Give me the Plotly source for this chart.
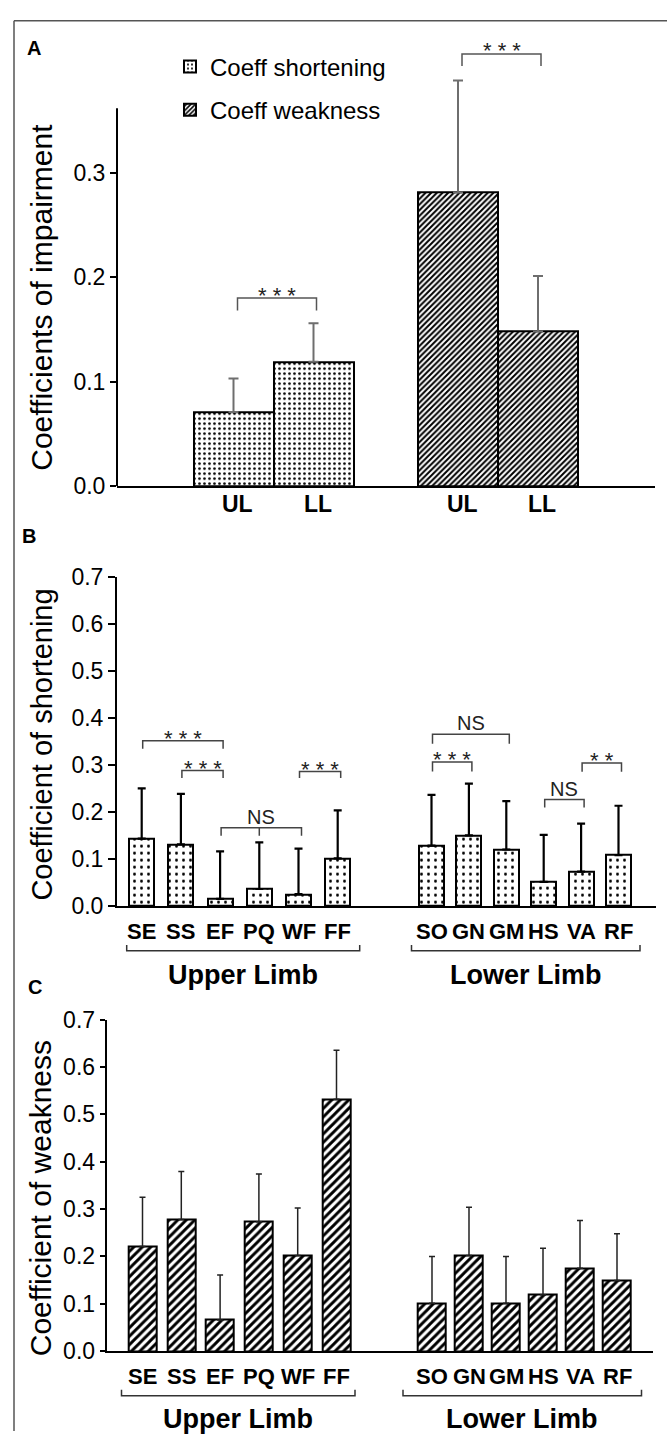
import plotly.graph_objects as go

W, H = 667, 1444
FONT = "Liberation Sans, Arial, sans-serif"

# ---------------- data ----------------
limb_labels = ["UL", "LL"]
a_short_mean = [0.071, 0.119]
a_short_sd = [0.032, 0.037]
a_weak_mean = [0.281, 0.148]
a_weak_sd = [0.107, 0.053]

upper_muscles = ["SE", "SS", "EF", "PQ", "WF", "FF"]
lower_muscles = ["SO", "GN", "GM", "HS", "VA", "RF"]

b_upper_mean = [0.143, 0.131, 0.015, 0.036, 0.025, 0.101]
b_upper_sd = [0.107, 0.107, 0.101, 0.099, 0.097, 0.102]
b_lower_mean = [0.128, 0.150, 0.120, 0.051, 0.073, 0.108]
b_lower_sd = [0.108, 0.110, 0.103, 0.100, 0.102, 0.105]

c_upper_mean = [0.221, 0.278, 0.066, 0.273, 0.202, 0.532]
c_upper_sd = [0.104, 0.101, 0.095, 0.101, 0.100, 0.103]
c_lower_mean = [0.101, 0.202, 0.101, 0.119, 0.175, 0.149]
c_lower_sd = [0.099, 0.102, 0.099, 0.098, 0.101, 0.099]

a_ticks = [0.0, 0.1, 0.2, 0.3]
bc_ticks = [0.0, 0.1, 0.2, 0.3, 0.4, 0.5, 0.6, 0.7]

# significance brackets: (group, i, j, top, bottom, label, mid index)
a_brackets = [("short", 0, 1, 0.180, 0.168, "* * *", None),
              ("weak", 0, 1, 0.4134, 0.402, "* * *", None)]
b_brackets = [("upper", 0, 2, 0.351, 0.334, "* * *", None),
              ("upper", 1, 2, 0.288, 0.272, "* * *", None),
              ("upper", 4, 5, 0.286, 0.272, "* * *", None),
              ("upper", 2, 4, 0.166, 0.149, "NS", 3),
              ("lower", 0, 2, 0.365, 0.345, "NS", None),
              ("lower", 0, 1, 0.306, 0.286, "* * *", None),
              ("lower", 3, 4, 0.226, 0.209, "NS", None),
              ("lower", 4, 5, 0.304, 0.285, "* *", None)]


# ---------------- geometry helpers ----------------
def px(x):
    return x / W


def py(y):
    return 1 - y / H


# panel A
A_X0, A_X1, A_Y0, A_K, A_YMAX = 117, 655, 482, 1065, 0.44
A_START = [116.5, 341]
A_BW = 80
a_short_x = [A_START[0] + i * A_BW for i in range(len(limb_labels))]
a_weak_x = [A_START[1] + i * A_BW for i in range(len(limb_labels))]

# panel B
B_X0, B_X1, B_Y0, B_Y7 = 117, 656, 909.3, 574
B_BW = 25
b_up_x = [24.7 + 39.2 * i for i in range(6)]
b_lo_x = [314.5 + 37.4 * i for i in range(6)]

# panel C
C_X0, C_X1, C_Y0, C_Y7 = 106.7, 652.7, 1362.7, 1025
C_BW = 28
c_up_x = [35.8 + 38.8 * i for i in range(6)]
c_lo_x = [325.3 + 37.0 * i for i in range(6)]

dots_a = dict(shape=".", fgcolor="black", bgcolor="white", size=5, solidity=0.22, fillmode="replace")
hatch_a = dict(shape="/", fgcolor="black", bgcolor="white", size=4, solidity=0.5, fillmode="replace")
dots_b = dict(shape=".", fgcolor="black", bgcolor="white", size=7, solidity=0.14, fillmode="replace")
hatch_c = dict(shape="/", fgcolor="black", bgcolor="white", size=6, solidity=0.48, fillmode="replace")

fig = go.Figure()

# ---- Panel A ----
fig.add_trace(go.Bar(
    x=a_short_x, y=a_short_mean, width=A_BW, name="Coeff shortening",
    legendgroup="s",
    marker=dict(color="white", line=dict(color="black", width=2), pattern=dots_a),
    error_y=dict(type="data", symmetric=False, array=a_short_sd,
                 arrayminus=[0] * len(a_short_sd), color="#6e6e6e", thickness=2, width=5),
    xaxis="x", yaxis="y"))
fig.add_trace(go.Bar(
    x=a_weak_x, y=a_weak_mean, width=A_BW, name="Coeff weakness",
    legendgroup="w",
    marker=dict(color="white", line=dict(color="black", width=2), pattern=hatch_a),
    error_y=dict(type="data", symmetric=False, array=a_weak_sd,
                 arrayminus=[0] * len(a_weak_sd), color="#6e6e6e", thickness=2, width=5),
    xaxis="x", yaxis="y"))

# ---- Panel B ----
fig.add_trace(go.Bar(
    x=b_up_x + b_lo_x, y=b_upper_mean + b_lower_mean, width=B_BW, showlegend=False,
    marker=dict(color="white", line=dict(color="black", width=2), pattern=dots_b),
    error_y=dict(type="data", symmetric=False, array=b_upper_sd + b_lower_sd,
                 arrayminus=[0] * 12, color="black", thickness=2.2, width=4),
    xaxis="x2", yaxis="y2"))

# ---- Panel C ----
fig.add_trace(go.Bar(
    x=c_up_x + c_lo_x, y=c_upper_mean + c_lower_mean, width=C_BW, showlegend=False,
    marker=dict(color="white", line=dict(color="black", width=2), pattern=hatch_c),
    error_y=dict(type="data", symmetric=False, array=c_upper_sd + c_lower_sd,
                 arrayminus=[0] * 12, color="#222222", thickness=1.5, width=3),
    xaxis="x3", yaxis="y3"))

shapes = []
annotations = []

# frame
shapes.append(dict(type="line", xref="paper", yref="paper", x0=px(14), x1=1, y0=py(8), y1=py(8),
                   line=dict(color="#555", width=1.5)))
shapes.append(dict(type="line", xref="paper", yref="paper", x0=px(14), x1=px(14), y0=py(8), y1=0,
                   line=dict(color="#555", width=1.5)))

# panel A y-axis line (stops below the top bracket)
shapes.append(dict(type="line", xref="x domain", yref="y", x0=0, x1=0, y0=0, y1=0.3615,
                   line=dict(color="black", width=2)))


def add_bracket(xref, yref, x0, x1, top, bottom, label, mid, color, shift_ast, shift_ns):
    path = f"M {x0},{bottom} L {x0},{top} L {x1},{top} L {x1},{bottom}"
    if mid is not None:
        path += f" M {mid},{top} L {mid},{bottom}"
    shapes.append(dict(type="path", xref=xref, yref=yref, path=path,
                       line=dict(color=color, width=1.5)))
    is_ns = label == "NS"
    annotations.append(dict(
        x=(x0 + x1) / 2, y=top, xref=xref, yref=yref, text=label, showarrow=False,
        yanchor="middle", xanchor="center", yshift=shift_ns if is_ns else shift_ast,
        font=dict(family=FONT, size=20 if is_ns else 22, color="#222")))


for grp, i, j, top, bot, lab, mid in a_brackets:
    xs = a_short_x if grp == "short" else a_weak_x
    add_bracket("x", "y", xs[i] + 4, xs[j] + 3, top, bot, lab, None, "#555", 3, 11)

for grp, i, j, top, bot, lab, mid in b_brackets:
    xs = b_up_x if grp == "upper" else b_lo_x
    add_bracket("x2", "y2", xs[i] + 1, xs[j] + 3, top, bot, lab,
                xs[mid] if mid is not None else None, "#444", 2, 11)

# panel letters
for letter, (lx, ly) in {"A": (34, 36), "B": (29, 533), "C": (35, 992)}.items():
    annotations.append(dict(x=px(lx), y=py(ly), xref="paper", yref="paper", text=f"<b>{letter}</b>",
                            showarrow=False, xanchor="center", yanchor="middle",
                            font=dict(family=FONT, size=20, color="black")))

# y titles
for title, (tx, ty), size in [("Coefficients of impairment", (42, 290), 30),
                              ("Coefficient of shortening", (42, 745), 29),
                              ("Coefficient of weakness", (40, 1207), 30)]:
    annotations.append(dict(x=px(tx), y=py(ty), xref="paper", yref="paper", text=title,
                            textangle=-90, showarrow=False, xanchor="center", yanchor="middle",
                            font=dict(family=FONT, size=size, color="black")))

# panel A category labels
for xs in (a_short_x, a_weak_x):
    for xv, lab in zip(xs, limb_labels):
        annotations.append(dict(x=xv + 4, y=py(500), xref="x", yref="paper", text=f"<b>{lab}</b>",
                                showarrow=False, xanchor="center", yanchor="middle",
                                font=dict(family=FONT, size=23, color="black")))


# panels B & C category labels and limb brackets
def limb_block(xref, X0, xs, names, lab_y, line_y, text_y, padl, padr, limb):
    for xv, lab in zip(xs, names):
        annotations.append(dict(x=xv, y=py(lab_y), xref=xref, yref="paper", text=f"<b>{lab}</b>",
                                showarrow=False, xanchor="center", yanchor="middle",
                                font=dict(family=FONT, size=22, color="black")))
    xl = px(X0 + xs[0] - padl)
    xr = px(X0 + xs[-1] + padr)
    shapes.append(dict(type="path", xref="paper", yref="paper",
                       path=f"M {xl},{py(line_y - 6)} L {xl},{py(line_y)} L {xr},{py(line_y)} L {xr},{py(line_y - 6)}",
                       line=dict(color="#333", width=1.5)))
    annotations.append(dict(x=(xl + xr) / 2, y=py(text_y), xref="paper", yref="paper",
                            text=f"<b>{limb}</b>", showarrow=False, xanchor="center", yanchor="middle",
                            font=dict(family=FONT, size=27, color="black")))


limb_block("x2", B_X0, b_up_x, upper_muscles, 935, 955, 980, 15, 22, "Upper Limb")
limb_block("x2", B_X0, b_lo_x, lower_muscles, 935, 955, 980, 20, 21.5, "Lower Limb")
limb_block("x3", C_X0, c_up_x, upper_muscles, 1388, 1408, 1432, 21, 18.5, "Upper Limb")
limb_block("x3", C_X0, c_lo_x, lower_muscles, 1388, 1408, 1432, 29, 24.5, "Lower Limb")

common_x = dict(showgrid=False, zeroline=False, showticklabels=False, ticks="",
                showline=True, linecolor="black", linewidth=2)
common_y = dict(showgrid=False, zeroline=False, ticks="outside", tickcolor="black",
                tickwidth=1.5, tickfont=dict(family=FONT, size=23, color="black"), tickformat=".1f")

fig.update_layout(
    width=W, height=H, margin=dict(l=0, r=0, t=0, b=0),
    paper_bgcolor="white", plot_bgcolor="white",
    font=dict(family=FONT, color="black"),
    barmode="overlay", bargap=0,
    xaxis=dict(domain=[px(A_X0), px(A_X1)], range=[0, A_X1 - A_X0], anchor="y", **common_x),
    yaxis=dict(domain=[py(A_Y0), py(A_Y0 - A_YMAX * A_K)], range=[0, A_YMAX], anchor="x",
               tickvals=a_ticks, ticklen=6, showline=False, **common_y),
    xaxis2=dict(domain=[px(B_X0), px(B_X1)], range=[0, B_X1 - B_X0], anchor="y2", **common_x),
    yaxis2=dict(domain=[py(B_Y0), py(B_Y7)], range=[0, 0.7], anchor="x2",
                tickvals=bc_ticks, ticklen=7, showline=True, linecolor="black", linewidth=2, **common_y),
    xaxis3=dict(domain=[px(C_X0), px(C_X1)], range=[0, C_X1 - C_X0], anchor="y3", **common_x),
    yaxis3=dict(domain=[py(C_Y0), py(C_Y7)], range=[0, 0.7], anchor="x3",
                tickvals=bc_ticks, ticklen=5, showline=True, linecolor="black", linewidth=2, **common_y),
    showlegend=True,
    legend=dict(x=px(170), y=py(32), xanchor="left", yanchor="top", bgcolor="rgba(0,0,0,0)",
                font=dict(family=FONT, size=24, color="black"), tracegroupgap=9,
                itemsizing="constant"),
    shapes=shapes, annotations=annotations,
)

fig.write_html("out.html")
